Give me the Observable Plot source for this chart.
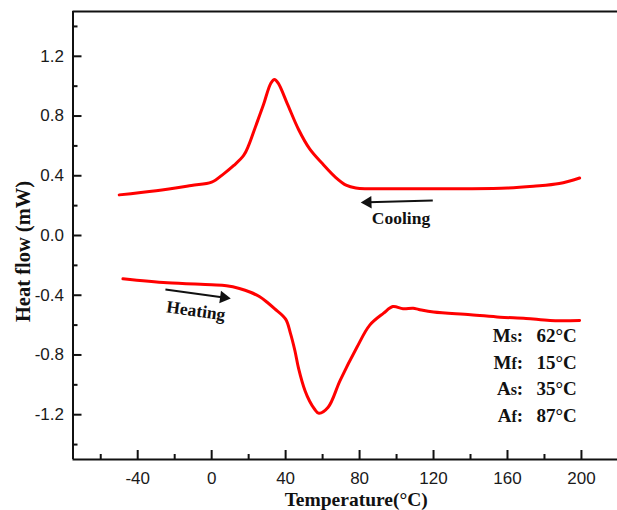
<!DOCTYPE html>
<html>
<head>
<meta charset="utf-8">
<script src="https://cdn.jsdelivr.net/npm/d3@7"></script>
<script src="https://cdn.jsdelivr.net/npm/@observablehq/plot@0.6"></script>
<style>
  html, body { margin: 0; padding: 0; background: #fff; overflow: hidden; }
</style>
</head>
<body>
<div id="chart"></div>
<script>
// DSC scan: temperature (°C) and heat flow (mW)
const coolingT  = [-50, -30, -11, 0, 6.5, 12, 17.3, 20, 23.6, 28, 32, 34, 36, 41, 47, 53, 60, 67, 73, 78, 84, 100, 120, 140, 160, 174, 188, 199];
const coolingHF = [0.272, 0.30, 0.335, 0.357, 0.413, 0.469, 0.536, 0.603, 0.725, 0.875, 1.02, 1.045, 1.02, 0.88, 0.71, 0.58, 0.48, 0.39, 0.335, 0.318, 0.313, 0.313, 0.313, 0.313, 0.318, 0.33, 0.348, 0.385];

const heatingT  = [-48, -24, 0, 8, 15, 21, 26, 30, 34, 40, 42.5, 45, 47, 50.5, 53, 55.5, 58, 63, 69.5, 78.5, 85.5, 93, 98, 103.5, 109, 112, 120, 140, 156, 170, 183, 199];
const heatingHF = [-0.29, -0.317, -0.33, -0.337, -0.355, -0.38, -0.41, -0.447, -0.49, -0.56, -0.65, -0.77, -0.89, -1.04, -1.11, -1.16, -1.19, -1.15, -0.97, -0.75, -0.60, -0.52, -0.476, -0.49, -0.487, -0.495, -0.513, -0.53, -0.547, -0.555, -0.569, -0.569];

const xTicks = [-40, 0, 40, 80, 120, 160, 200];
const xMinorTicks = [-60, -20, 20, 60, 100, 140, 180];
const yTicks = [-1.2, -0.8, -0.4, 0, 0.4, 0.8, 1.2];
const yMinorTicks = [-1.4, -1.0, -0.6, -0.2, 0.2, 0.6, 1.0, 1.4];

// transformation temperatures
const transLabels = ["Ms", "Mf", "As", "Af"];
const transTemps = [62, 15, 35, 87];

const cooling = coolingT.map((t, i) => ({t, hf: coolingHF[i]}));
const heating = heatingT.map((t, i) => ({t, hf: heatingHF[i]}));

const xDomain = [-75, 219.5];
const yDomain = [-1.5, 1.5];

// plot frame in pixels
const W = 617, H = 510;
const mL = 72.5, mR = 0, mT = 11, mB = 51;
const frameW = W - mL - mR, frameH = H - mT - mB;

// annotation placement (data coordinates)
const arrows = [
  {x1: -25, y1: -0.362, x2: 6.5, y2: -0.415, rotate: 97.8},
  {x1: 119.6, y1: 0.234, x2: 84.5, y2: 0.222, rotate: -91.6}
];
const notes = [
  {t: -8.5, hf: -0.505, text: "Heating", rotate: 8},
  {t: 102.4, hf: 0.114, text: "Cooling", rotate: 0}
];
const transRows = [-0.67, -0.85, -1.025, -1.205];
const transData = transLabels.map((l, i) => ({t: 197.5, hf: transRows[i], text: `${l}:\u2002\u2009${transTemps[i]}°C`}));

const serif = "'Liberation Serif','Times New Roman',serif";
const sans = "'Liberation Sans',Arial,sans-serif";
const ink = "#111";

const chart = Plot.plot({
  width: W,
  height: H,
  marginLeft: mL,
  marginRight: mR,
  marginTop: mT,
  marginBottom: mB,
  style: {fontFamily: sans, fontSize: "17px", color: "#1a1a1a", background: "#fff", overflow: "visible"},
  x: {domain: xDomain},
  y: {domain: yDomain},
  marks: [
    // frame (top, bottom, left)
    Plot.ruleY([yDomain[1]], {stroke: ink, strokeWidth: 2}),
    Plot.ruleY([yDomain[0]], {stroke: ink, strokeWidth: 2}),
    Plot.ruleX([xDomain[0]], {stroke: ink, strokeWidth: 2}),
    // ticks pointing into the plot area
    Plot.tickX(xTicks, {x: d => d, insetTop: frameH - 9, stroke: ink, strokeWidth: 2}),
    Plot.tickX(xMinorTicks, {x: d => d, insetTop: frameH - 5, stroke: ink, strokeWidth: 2}),
    Plot.tickY(yTicks, {y: d => d, insetRight: frameW - 9, stroke: ink, strokeWidth: 2}),
    Plot.tickY(yMinorTicks, {y: d => d, insetRight: frameW - 5, stroke: ink, strokeWidth: 2}),
    // tick labels
    Plot.axisX(xTicks, {tickSize: 0, tickPadding: 12, tickFormat: d => String(d), label: null, fontSize: 17}),
    Plot.axisY(yTicks, {tickSize: 0, tickPadding: 9, tickFormat: d => d.toFixed(1), label: null, fontSize: 17}),
    // axis titles
    Plot.text(["Temperature(°C)"], {frameAnchor: "bottom", lineAnchor: "middle", dx: 11, dy: 40, fontFamily: serif, fontWeight: "bold", fontSize: 19.5, fill: ink}),
    Plot.text(["Heat flow (mW)"], {frameAnchor: "left", textAnchor: "middle", lineAnchor: "middle", rotate: -90, dx: -50, dy: 16, fontFamily: serif, fontWeight: "bold", fontSize: 20.5, fill: ink}),
    // curves
    Plot.line(cooling, {x: "t", y: "hf", stroke: "#ff0000", strokeWidth: 3, curve: "catmull-rom"}),
    Plot.line(heating, {x: "t", y: "hf", stroke: "#ff0000", strokeWidth: 3, curve: "catmull-rom"}),
    // direction arrows (shaft + solid head) and notes
    Plot.link(arrows, {x1: "x1", y1: "y1", x2: "x2", y2: "y2", stroke: ink, strokeWidth: 2}),
    Plot.dot(arrows, {x: "x2", y: "y2", symbol: "triangle", r: 4.6, rotate: "rotate", fill: ink, stroke: "none"}),
    Plot.text(notes, {x: "t", y: "hf", text: "text", rotate: "rotate", fontFamily: serif, fontWeight: "bold", fontSize: 17.5, fill: ink}),
    Plot.text(transData, {x: "t", y: "hf", text: "text", textAnchor: "end", fontFamily: serif, fontWeight: "bold", fontSize: 19, fill: ink})
  ]
});

// set the second letter of each transformation label in a smaller size
chart.querySelectorAll("text").forEach(el => {
  const m = /^([MA])([sf])(:.*)$/.exec(el.textContent);
  if (!m) return;
  el.textContent = "";
  const ns = "http://www.w3.org/2000/svg";
  const a = document.createElementNS(ns, "tspan"); a.textContent = m[1];
  const b = document.createElementNS(ns, "tspan"); b.textContent = m[2]; b.setAttribute("font-size", "16");
  const c = document.createElementNS(ns, "tspan"); c.textContent = m[3];
  el.append(a, b, c);
});

document.getElementById("chart").appendChild(chart);
</script>
</body>
</html>
